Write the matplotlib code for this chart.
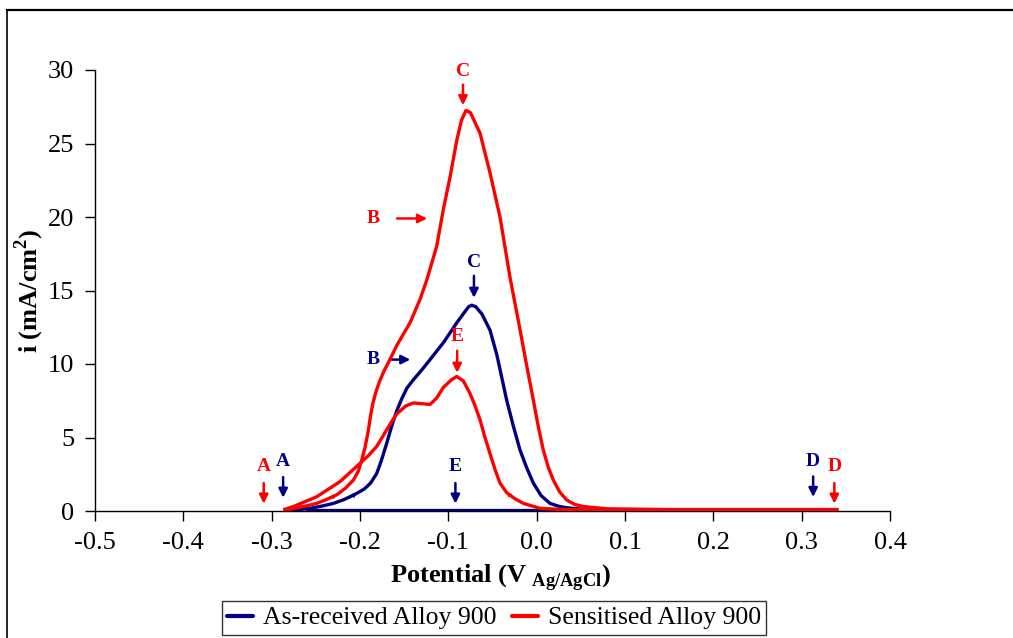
import matplotlib
matplotlib.use('Agg')
import matplotlib.pyplot as plt
from matplotlib.lines import Line2D

plt.rcParams['font.family'] = ['Liberation Serif', 'DejaVu Serif']
plt.rcParams['mathtext.fontset'] = 'custom'
plt.rcParams['mathtext.rm'] = 'Liberation Serif'
plt.rcParams['mathtext.bf'] = 'Liberation Serif:bold'

# as-received alloy, forward scan (V, mA/cm2)
blue_fwd_x = [-0.285, -0.27, -0.255, -0.242, -0.23, -0.218, -0.2037, -0.195, -0.188, -0.181,
              -0.176, -0.1698, -0.164, -0.1585, -0.153, -0.147, -0.14, -0.13, -0.1207, -0.105,
              -0.0905, -0.082, -0.077, -0.0735, -0.069, -0.062, -0.0528, -0.045, -0.034, -0.0265,
              -0.0189, -0.011, -0.0038, 0.005, 0.015, 0.025, 0.034, 0.05, 0.08, 0.15,
              0.25, 0.32]
blue_fwd_y = [0.02, 0.08, 0.2, 0.35, 0.52, 0.78, 1.2, 1.5, 1.9, 2.56,
              3.4, 4.6, 5.8, 6.8, 7.6, 8.35, 8.9, 9.6, 10.3, 11.5,
              12.8, 13.5, 13.9, 14.0, 13.9, 13.4, 12.3, 10.6, 7.55, 5.8,
              4.15, 2.9, 1.9, 1.05, 0.52, 0.32, 0.22, 0.13, 0.09, 0.07,
              0.06, 0.06]
# as-received alloy, reverse scan
blue_rev_x = [0.32, 0.1, -0.1, -0.26]
blue_rev_y = [0.06, 0.06, 0.06, 0.06]

# sensitised alloy, forward scan
red_fwd_x = [-0.285, -0.2755, -0.262, -0.249, -0.238, -0.2264, -0.2165, -0.2075, -0.202, -0.198,
             -0.194, -0.1905, -0.188, -0.1855, -0.182, -0.178, -0.173, -0.167, -0.158, -0.1434,
             -0.132, -0.1245, -0.1132, -0.1057, -0.0981, -0.0905, -0.085, -0.08, -0.075, -0.0641,
             -0.0528, -0.0415, -0.0302, -0.02, -0.0113, -0.0038, 0.002, 0.0075, 0.013, 0.0189,
             0.026, 0.034, 0.043, 0.053, 0.08, 0.15, 0.25, 0.34]
red_fwd_y = [0.03, 0.18, 0.33, 0.52, 0.78, 1.1, 1.55, 2.1, 2.7, 3.47,
             4.4, 5.5, 6.5, 7.3, 8.1, 8.8, 9.5, 10.2, 11.3, 12.8,
             14.4, 15.7, 18.0, 20.5, 22.7, 25.2, 26.6, 27.25, 27.1, 25.7,
             23.0, 20.0, 15.9, 12.7, 9.9, 7.55, 5.7, 4.15, 3.0, 2.1,
             1.3, 0.75, 0.45, 0.3, 0.15, 0.1, 0.1, 0.1]
# sensitised alloy, reverse scan
red_rev_x = [0.34, 0.1, 0.03, 0.0038, -0.0151, -0.025, -0.034, -0.0415, -0.047, -0.0528,
             -0.0585, -0.0641, -0.07, -0.0755, -0.083, -0.0905, -0.097, -0.1057, -0.113, -0.1207,
             -0.13, -0.1397, -0.148, -0.1585, -0.165, -0.173, -0.181, -0.19, -0.2, -0.2226,
             -0.249, -0.2755, -0.285]
red_rev_y = [0.08, 0.08, 0.1, 0.18, 0.52, 0.85, 1.25, 1.9, 2.8, 3.9,
             5.0, 6.2, 7.2, 8.0, 8.85, 9.15, 8.9, 8.4, 7.7, 7.25,
             7.3, 7.35, 7.15, 6.6, 6.0, 5.2, 4.4, 3.8, 3.24, 2.0,
             0.97, 0.3, 0.12]

# point labels: (text, x, y of text, arrow start, arrow end, colour)
navy = '#000080'
red = '#FF0000'
labels_v = [('C', -0.0834, 29.9, 29.0, 27.6, red),
            ('C', -0.071, 16.9, 16.0, 14.5, navy),
            ('E', -0.090, 11.9, 10.9, 9.4, red),
            ('E', -0.092, 3.0, 1.9, 0.5, navy),
            ('A', -0.309, 3.0, 1.9, 0.5, red),
            ('A', -0.287, 3.4, 2.3, 0.9, navy),
            ('D', 0.313, 3.35, 2.35, 0.95, navy),
            ('D', 0.337, 3.0, 1.9, 0.5, red)]
labels_h = [('B', -0.185, 19.9, -0.158, -0.124, red),
            ('B', -0.185, 10.3, -0.167, -0.143, navy)]

fig = plt.figure(figsize=(10.13, 6.38), dpi=100)
ax = fig.add_axes([95 / 1013, 1 - 511 / 638, 795 / 1013, 441 / 638])

ax.plot(blue_fwd_x, blue_fwd_y, color=navy, lw=2.4, solid_capstyle='round',
        solid_joinstyle='round', label='As-received Alloy 900', zorder=3)
ax.plot(blue_rev_x, blue_rev_y, color=navy, lw=2.4, zorder=3)
ax.plot(red_fwd_x, red_fwd_y, color=red, lw=2.4, solid_capstyle='round',
        solid_joinstyle='round', label='Sensitised Alloy 900', zorder=4)
ax.plot(red_rev_x, red_rev_y, color=red, lw=2.4, solid_joinstyle='round', zorder=4)

arrow_kw = dict(arrowstyle='-|>', lw=1.8, mutation_scale=13, shrinkA=0, shrinkB=0)
for t, x, ty, y0, y1, c in labels_v:
    ax.text(x, ty, t, color=c, fontsize=14, fontweight='bold', ha='center', va='center')
    ax.annotate('', xy=(x, y1), xytext=(x, y0),
                arrowprops=dict(color=c, **arrow_kw))
for t, x, y, x0, x1, c in labels_h:
    ax.text(x, y, t, color=c, fontsize=14, fontweight='bold', ha='center', va='center')
    ax.annotate('', xy=(x1, y), xytext=(x0, y),
                arrowprops=dict(color=c, **arrow_kw))

# small scan direction heads on the curves
small_kw = dict(arrowstyle='-|>', lw=0.5, mutation_scale=7, shrinkA=0, shrinkB=0)
ax.annotate('', xy=(-0.2037, 1.2), xytext=(-0.212, 0.85), arrowprops=dict(color=navy, **small_kw))
ax.annotate('', xy=(-0.2264, 1.1), xytext=(-0.234, 0.85), arrowprops=dict(color=red, **small_kw))
ax.annotate('', xy=(-0.034, 1.25), xytext=(-0.028, 0.95), arrowprops=dict(color=red, **small_kw))

ax.set_xlim(-0.5, 0.4)
ax.set_ylim(0, 30)
ax.set_xticks([-0.5, -0.4, -0.3, -0.2, -0.1, 0.0, 0.1, 0.2, 0.3, 0.4])
ax.set_xticklabels(['-0.5', '-0.4', '-0.3', '-0.2', '-0.1', '0.0', '0.1', '0.2', '0.3', '0.4'])
ax.set_yticks([0, 5, 10, 15, 20, 25, 30])
ax.tick_params(axis='both', labelsize=19, length=7, width=1, direction='out')
ax.tick_params(axis='x', pad=8)
ax.tick_params(axis='y', pad=8)
for s in ['top', 'right']:
    ax.spines[s].set_visible(False)
for s in ['left', 'bottom']:
    ax.spines[s].set_linewidth(1)

ax.set_xlabel(r'Potential (V$_{\ \mathbf{Ag/AgCl}}$)', fontsize=19, fontweight='bold')
ax.set_ylabel(r'i (mA/cm$^{\mathbf{2}}$)', fontsize=19, fontweight='bold')
ax.xaxis.set_label_coords(0.51, -0.115)
ax.yaxis.set_label_coords(-0.062, 0.5)

leg = fig.legend(loc='center', bbox_to_anchor=(494 / 1013, 1 - 618 / 638), ncol=2,
                 fontsize=18.5, frameon=True, fancybox=False, edgecolor='black',
                 handlelength=1.0, handletextpad=0.4, columnspacing=0.6,
                 borderpad=0.2, borderaxespad=0)
leg.get_frame().set_linewidth(1)
for h in leg.legend_handles:
    h.set_linewidth(3)

# outer frame (top and left edges only)
fig.add_artist(Line2D([7 / 1013, 1], [1 - 10 / 638, 1 - 10 / 638], color='black', lw=1.6,
                      transform=fig.transFigure))
fig.add_artist(Line2D([7 / 1013, 7 / 1013], [0, 1 - 10 / 638], color='black', lw=1.2,
                      transform=fig.transFigure))

fig.savefig('out.png', dpi=100)
